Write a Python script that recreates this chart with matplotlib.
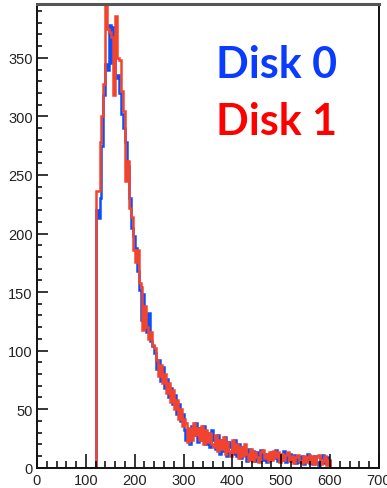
import numpy as np
import matplotlib
matplotlib.use("Agg")
import matplotlib.pyplot as plt
from matplotlib.ticker import MultipleLocator

# histogram binning: 4-unit bins between 120 and 600, empty elsewhere
bin_lo = 120
bin_width = 4
x_min, x_max = 0, 700

disk0 = [
    220, 213, 230, 275, 318, 345, 340, 378, 346, 376,
    333, 335, 320, 302, 290, 278, 258, 230, 205, 198,
    188, 168, 152, 126, 148, 130, 116, 132, 108, 104,
    98, 84, 92, 74, 86, 68, 76, 60, 68, 54,
    62, 46, 54, 40, 46, 32, 24, 32, 20, 36,
    28, 38, 22, 34, 24, 36, 20, 30, 18, 32,
    24, 16, 28, 12, 24, 14, 26, 10, 22, 18,
    12, 24, 10, 20, 8, 18, 11, 6, 16, 8,
    14, 6, 13, 9, 15, 7, 12, 5, 11, 8,
    13, 8, 15, 6, 11, 7, 14, 5, 10, 12,
    6, 11, 4, 9, 5, 10, 3, 8, 12, 4,
    9, 3, 10, 5, 2, 8, 11, 4, 9, 6,
]

disk1 = [
    236, 236, 278, 300, 328, 430, 375, 372, 368, 318,
    386, 350, 348, 322, 305, 245, 262, 222, 214, 186,
    176, 186, 158, 154, 118, 138, 120, 110, 116, 105,
    102, 92, 78, 88, 72, 80, 64, 72, 56, 66,
    50, 58, 42, 50, 36, 42, 38, 22, 34, 24,
    38, 28, 34, 24, 36, 20, 32, 22, 30, 20,
    18, 28, 14, 24, 16, 26, 12, 22, 14, 10,
    24, 13, 20, 8, 18, 10, 20, 12, 7, 16,
    6, 13, 9, 5, 13, 15, 8, 12, 6, 13,
    7, 14, 9, 13, 5, 12, 7, 11, 13, 6,
    10, 4, 9, 11, 6, 4, 10, 5, 9, 11,
    4, 10, 3, 9, 11, 3, 6, 10, 2, 7,
]

labels = ["Disk 0", "Disk 1"]
colors = ["#0b4dff", "#f2432e"]

n = len(disk0)
edges = np.concatenate([[x_min], bin_lo + bin_width * np.arange(n + 1), [x_max]])

fig = plt.figure(figsize=(3.87, 4.89), dpi=100)
ax = fig.add_axes([0.0956, 0.0415, 0.8834, 0.9483])

for vals, col in zip([disk0, disk1], colors):
    padded = np.concatenate([[0], vals, [0]])
    ax.stairs(padded, edges, color=col, lw=1.8, baseline=None)

ax.set_xlim(x_min, x_max)
ax.set_ylim(0, 396)

ax.xaxis.set_major_locator(MultipleLocator(100))
ax.xaxis.set_minor_locator(MultipleLocator(20))
ax.yaxis.set_major_locator(MultipleLocator(50))
ax.yaxis.set_minor_locator(MultipleLocator(10))

ax.tick_params(axis="x", which="major", direction="in", length=10, width=1.1, pad=3.5)
ax.tick_params(axis="x", which="minor", direction="in", length=5, width=1.1)
ax.tick_params(axis="y", which="major", direction="in", length=8, width=1.1, pad=3)
ax.tick_params(axis="y", which="minor", direction="in", length=3.6, width=1.1)
ax.tick_params(top=False, right=False, which="both")

for lab in ax.get_xticklabels() + ax.get_yticklabels():
    lab.set_fontfamily("Liberation Sans")
    lab.set_fontsize(10.5)
    lab.set_color("#222222")

for side in ["left", "bottom", "right"]:
    ax.spines[side].set_linewidth(1.4)
    ax.spines[side].set_color("#111111")
ax.spines["top"].set_linewidth(2.2)
ax.spines["top"].set_color("#555555")

fig.text(0.7145, 0.8405, labels[0], color="#0a3cff", fontsize=31,
         fontfamily="Lato", fontweight="bold", ha="center", va="baseline")
fig.text(0.7145, 0.724, labels[1], color="#ff0000", fontsize=31,
         fontfamily="Lato", fontweight="bold", ha="center", va="baseline")

fig.savefig("out.png", dpi=100)
